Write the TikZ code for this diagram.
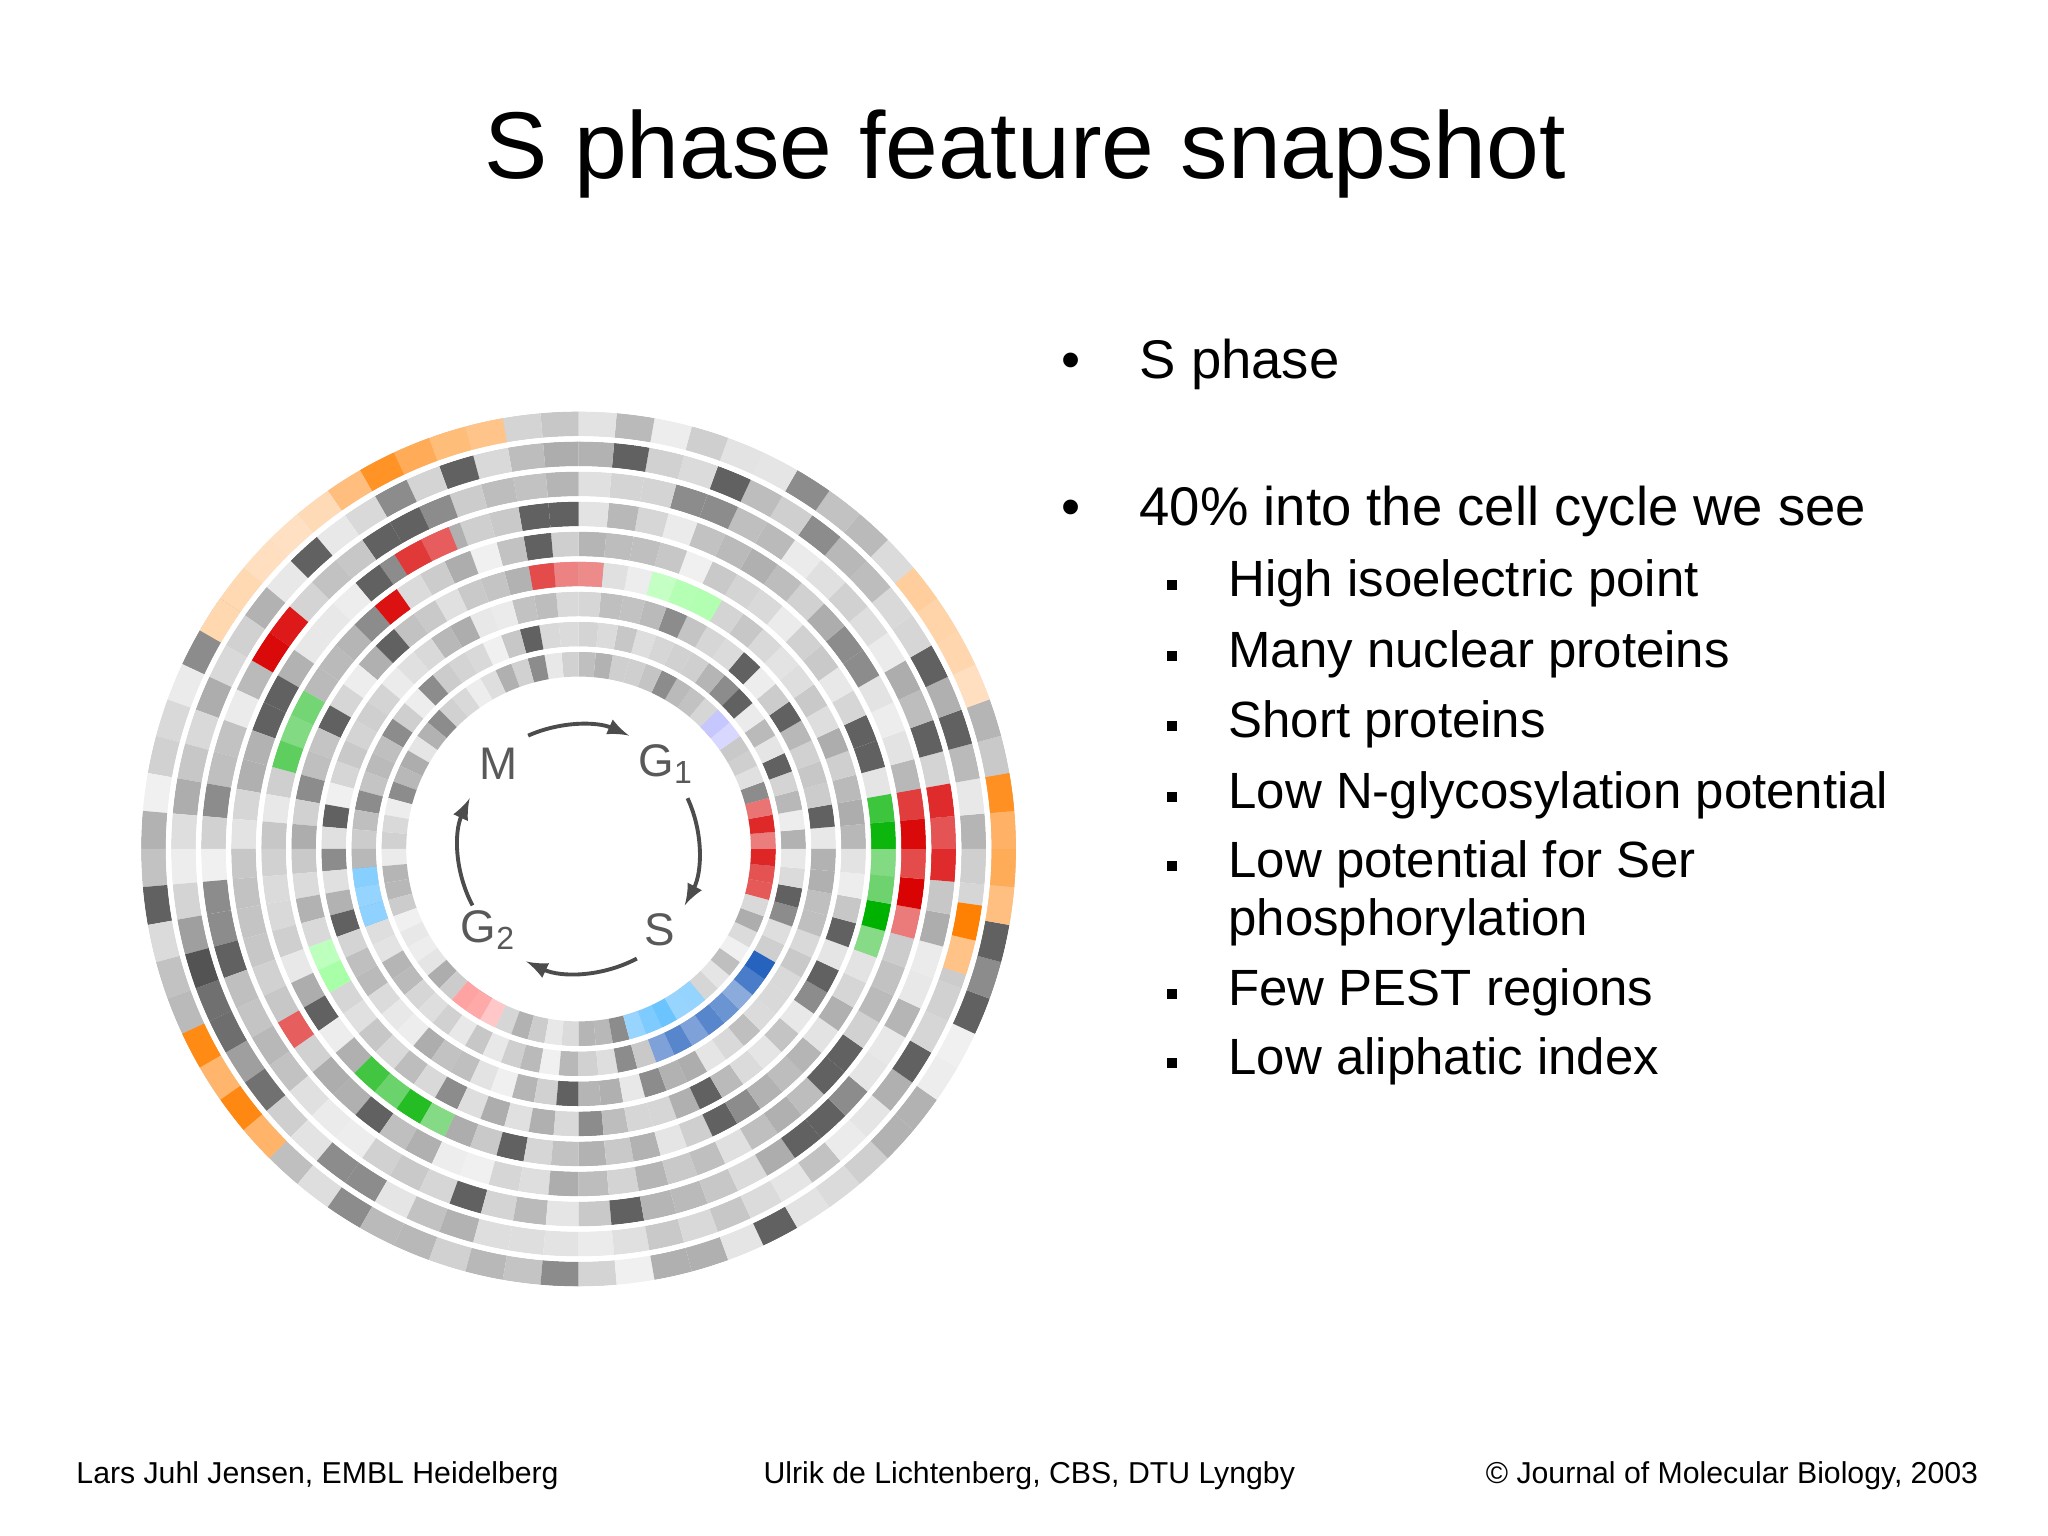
\documentclass[tikz,border=0pt]{standalone}
\usepackage{fontspec}
\setmainfont{Liberation Sans}
\colorlet{lorange}{orange!40!white}
\colorlet{lgreen}{green!40!white}
\colorlet{dgreen}{green!70!black}
\colorlet{dgray}{black!75}
\colorlet{dblue}{blue!60!cyan!70!black}
\colorlet{mblue}{blue!40!cyan!60!white}
\colorlet{lblue}{blue!30!white}
\colorlet{lred}{red!40!white}
\colorlet{sred}{red!85!black}
\begin{document}
\begin{tikzpicture}[x=0.01306cm,y=-0.01306cm,
  bul/.style={anchor=base west,inner sep=0,font=\fontsize{15.5}{18}\selectfont},
  sub/.style={anchor=base west,inner sep=0,font=\fontsize{14.5}{17}\selectfont},
  foot/.style={inner sep=0,font=\fontsize{8.6}{10}\selectfont},
  lab/.style={text=black!65,font=\fontsize{13}{15}\selectfont},
  cyc/.style={draw=black!70,line width=1.1pt,-latex}]
\useasboundingbox (0,0) rectangle (1568,1176);
\fill[white] (0,0) rectangle (1568,1176);
\node[inner sep=0,font=\fontsize{27}{32}\selectfont] (title) at (785,118) {S phase feature snapshot};
\pgfmathsetseed{7}
\begin{scope}[shift={(443,650)},y=0.01306cm]
 \foreach \r in {0,...,8}{
  \pgfmathsetmacro{\ri}{132+\r*23}\pgfmathsetmacro{\ro}{\ri+19}
  \foreach \a in {0,5,...,355}{
   \pgfmathrandominteger{\g}{6}{32}\pgfmathrandominteger{\d}{0}{11}
   \pgfmathtruncatemacro{\p}{\d==0 ? 62 : (\d==1 ? 45 : \g)}
   \fill[black!\p!white] (\a:\ri) arc[start angle=\a,end angle=\a+5,radius=\ri] -- (\a+5:\ro) arc[start angle=\a+5,end angle=\a,radius=\ro] -- cycle;
  }}
 \foreach \r/\s/\e/\c in {8/100/125/orange,8/125/150/lorange,8/-10/12/orange,8/205/225/orange,8/20/40/lorange,
   7/190/220/dgray,7/-18/-8/orange,6/140/150/sred,6/-5/10/sred,5/112/125/sred,5/-15/10/sred,5/210/215/sred,
   4/150/165/dgreen,4/-20/12/dgreen,4/225/245/dgreen,4/125/130/sred,
   3/85/100/sred,3/60/75/lgreen,3/200/210/lgreen,1/290/330/dblue,1/185/200/mblue,
   0/285/310/mblue,0/-15/18/sred,0/35/45/lblue,0/230/245/lred}{
  \pgfmathsetmacro{\ri}{132+\r*23}\pgfmathsetmacro{\ro}{\ri+19}
  \pgfmathtruncatemacro{\n}{(\e-\s)/5}
  \foreach \k in {1,...,\n}{
   \pgfmathsetmacro{\aa}{\s+(\k-1)*5}
   \pgfmathrandominteger{\q}{45}{100}
   \fill[\c!\q!white] (\aa:\ri) arc[start angle=\aa,end angle=\aa+5,radius=\ri] -- (\aa+5:\ro) arc[start angle=\aa+5,end angle=\aa,radius=\ro] -- cycle;
  }}
 \foreach \r in {0,...,8}{\draw[white,line width=1.5pt] (0,0) circle[radius=132+\r*23+19+2];}
 \node[lab] (m) at (-61,65) {M};
 \node[lab] (g1) at (67,65) {G\textsubscript{1}};
 \node[lab] (s) at (62,-62) {S};
 \node[lab] (g2) at (-69,-62) {G\textsubscript{2}};
 \draw[cyc] (114:95) arc[start angle=114,end angle=66,radius=95];
 \draw[cyc] (25:92) arc[start angle=25,end angle=-28,radius=92];
 \draw[cyc] (-62:95) arc[start angle=-62,end angle=-115,radius=95];
 \draw[cyc] (-152:92) arc[start angle=-152,end angle=-205,radius=92];
\end{scope}
\node[bul] (b1) at (812,290) {•};
\node[bul] (t1) at (872,290) {S phase};
\node[bul] (b2) at (812,402) {•};
\node[bul] (t2) at (872,402) {40\% into the cell cycle we see};
\foreach \y/\t [count=\i] in {457/High isoelectric point,511/Many nuclear proteins,565/Short proteins,619/Low N-glycosylation potential,672/Low potential for Ser/Thr-,770/Few PEST regions,823/Low aliphatic index}{
  \node[sub] (sb\i) at (893,\y) {\rule[0.25ex]{1mm}{1mm}};
  \node[sub] (st\i) at (940,\y) {\t};}
\node[sub] (st8) at (940,716) {phosphorylation};
\node[foot,anchor=base west] (f1) at (58,1136) {Lars Juhl Jensen, EMBL Heidelberg};
\node[foot,anchor=base] (f2) at (788,1136) {Ulrik de Lichtenberg, CBS, DTU Lyngby};
\node[foot,anchor=base east] (f3) at (1515,1136) {© Journal of Molecular Biology, 2003};
\end{tikzpicture}
\end{document}
